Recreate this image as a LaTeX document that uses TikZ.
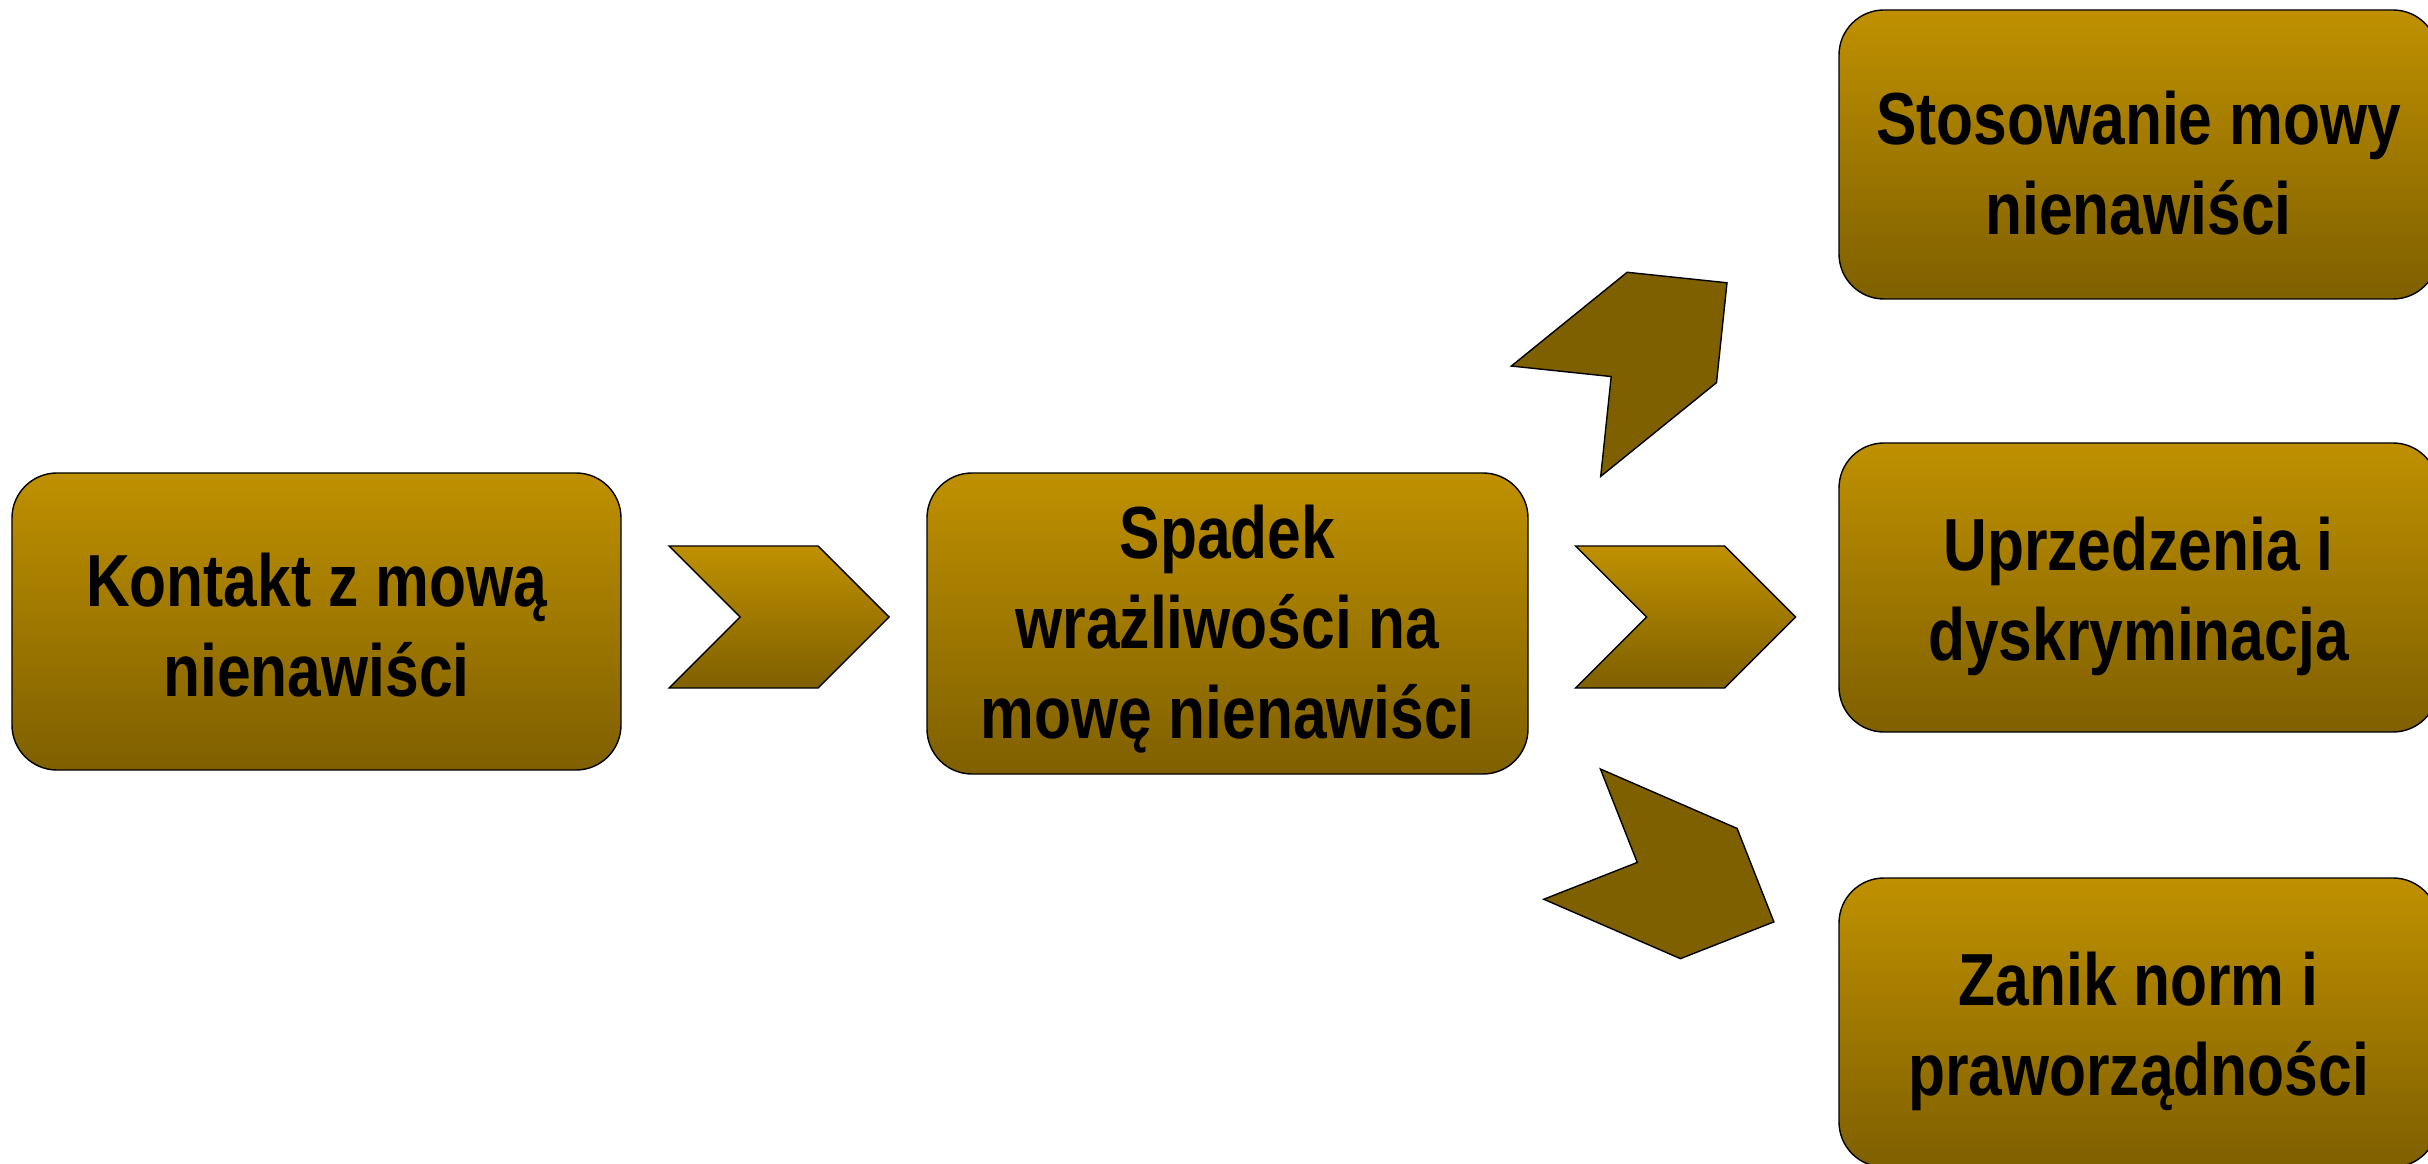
\documentclass[tikz,border=0pt]{standalone}
\usepackage{fontspec}
\setmainfont{Liberation Sans}[FakeStretch=0.82]
\usepackage{xcolor}
\usepackage{tikz}
\usetikzlibrary{positioning}
\definecolor{goldtop}{HTML}{BF9000}
\definecolor{goldlow}{HTML}{7F6000}
\tikzset{
  stage/.style    = {draw=black, line width=0.4pt, rounded corners=4.5mm,
                     top color=goldtop, middle color=goldlow, bottom color=goldlow,
                     inner sep=0pt, outer sep=0pt},
  stageleft/.style  = {stage, minimum width=60.9mm, minimum height=29.7mm},
  stageright/.style = {stage, minimum width=59.9mm, minimum height=28.9mm},
  stagetext/.style  = {inner sep=0pt, outer sep=0pt, align=center,
                       font=\fontsize{21}{25.6}\selectfont\bfseries},
  chevgrad/.style = {draw=black, line width=0.4pt,
                     top color=goldtop, middle color=goldlow, bottom color=goldlow},
  chevflat/.style = {draw=black, line width=0.4pt, fill=goldlow},
}

\begin{document}
\begin{tikzpicture}[x=1mm,y=1mm]
\path[use as bounding box] (0,0) rectangle (242.8,116.3);

% ---- the chain ----------------------------------------------------------
\node[stageleft] (kontakt) at (31.65,54.15) {};
\node[stageleft, minimum width=60.1mm, minimum height=30.1mm] (spadek) at (122.75,53.95) {};
\node[stagetext] (kontakt-t) at ([yshift=-0.4mm]kontakt.center) {Kontakt z mową\\nienawiści};
\node[stagetext] (spadek-t)  at ([yshift=-0.6mm]spadek.center)
  {Spadek\\wrażliwości na\\mowę nienawiści};

% ---- the outcomes -------------------------------------------------------
\node[stageright] (stosowanie)  at (213.85,100.85) {};
\node[stageright] (uprzedzenia) at (213.85,57.55)  {};
\node[stageright] (zanik)       at (213.85,14.05)  {};
\node[stagetext] (stosowanie-t)  at ([yshift=-0.9mm]stosowanie.center)  {Stosowanie mowy\\nienawiści};
\node[stagetext] (uprzedzenia-t) at ([yshift=-0.9mm]uprzedzenia.center) {Uprzedzenia i\\dyskryminacja};
\node[stagetext] (zanik-t)       at ([yshift=-0.9mm]zanik.center)       {Zanik norm i\\praworządności};

% ---- chevrons between them ----------------------------------------------
\foreach \cx/\cy/\rot/\sty in {77.9/54.6/0/chevgrad, 168.55/54.6/0/chevgrad,
                               164.15/81.1/39/chevflat, 167.3/28.5/-23.5/chevflat} {
  \draw[\sty, shift={(\cx,\cy)}, rotate=\rot]
    (-11,7.1) -- (3.9,7.1) -- (11,0) -- (3.9,-7.1) -- (-11,-7.1) -- (-3.9,0) -- cycle;
}

\end{tikzpicture}
\end{document}
